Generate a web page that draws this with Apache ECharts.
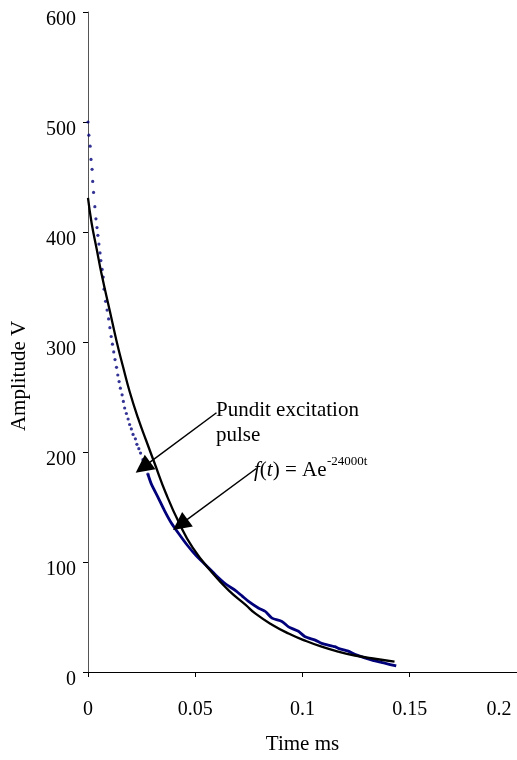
<!DOCTYPE html>
<html>
<head>
<meta charset="utf-8">
<script src="https://cdn.jsdelivr.net/npm/echarts@6/dist/echarts.min.js"></script>
<style>
  html, body { margin: 0; padding: 0; background: #ffffff; }
  #chart { width: 517px; height: 760px; }
</style>
</head>
<body>
<div id="chart"></div>
<script>
// Axis tick labels
const xTickLabels = ['0', '0.05', '0.1', '0.15', '0.2'];
const yTickLabels = ['0', '100', '200', '300', '400', '500', '600'];

// Measured excitation pulse (time in ms, amplitude in V)
const pulseTime = [
  0.0000, 0.0004, 0.0010, 0.0014, 0.0019, 0.0022, 0.0026, 0.0032, 0.0037, 0.0042,
  0.0046, 0.0051, 0.0056, 0.0060, 0.0066, 0.0071, 0.0075, 0.0082, 0.0089, 0.0096,
  0.0102, 0.0108, 0.0114, 0.0120, 0.0126, 0.0133, 0.0139, 0.0145, 0.0151, 0.0159,
  0.0165, 0.0171, 0.0179, 0.0187, 0.0194, 0.0202, 0.0210, 0.0221, 0.0228, 0.0237,
  0.0245, 0.0256, 0.0267, 0.0279,
  0.0295, 0.0326, 0.0356, 0.0387, 0.0426, 0.0464, 0.0503, 0.0550, 0.0596, 0.0642,
  0.0688, 0.0719, 0.0750, 0.0796, 0.0827, 0.0858, 0.0904, 0.0935, 0.0981, 0.1012,
  0.1059, 0.1089, 0.1151, 0.1167, 0.1213, 0.1244, 0.1321, 0.1383, 0.1437
];
const pulseAmp = [
  500, 488, 478, 466, 457, 446, 436, 423, 412, 404,
  397, 389, 381, 374, 366, 359, 348, 337, 329, 321,
  313, 305, 298, 291, 284, 277, 270, 264, 258, 252,
  246, 240, 235, 230, 225, 221, 216, 212, 207, 203,
  199, 193, 187, 180,
  171, 159, 147, 136, 125, 115, 106, 97, 88, 80,
  74, 69, 64, 58, 55, 49, 46, 41, 37, 32,
  29, 26, 23, 21.5, 19, 16, 11, 8, 5.5
];

// Exponential fit curve f(t) = A·e^(-24000t)
const fitTime = [
  0, 0.0017, 0.0040, 0.0063, 0.0102, 0.0133, 0.0164, 0.0194, 0.0233, 0.0272,
  0.0310, 0.0364, 0.0426, 0.0488, 0.0580, 0.0657, 0.0735, 0.0781, 0.0858, 0.0935,
  0.1012, 0.1089, 0.1167, 0.1244, 0.1321, 0.1429
];
const fitAmp = [
  431, 408, 385, 362, 328, 301, 277, 255, 231, 210,
  190, 162, 135, 113, 90, 74, 61, 53, 43, 35,
  28.5, 23, 18.5, 15, 12.5, 9.5
];

// Annotation arrows: [tail, tip] in data coordinates
const pulseArrow = [[0.0599, 235.7], [0.0256, 186]];
const fitArrow = [[0.0785, 185], [0.0430, 134]];

const FONT = 'Liberation Serif';
const NAVY = '#00007a';

// Sparse-dot head of the pulse and continuous tail
const DOT_END = 0.028;
const pulseDots = [], pulseTrace = [];
pulseTime.forEach((t, i) => {
  if (t <= DOT_END) pulseDots.push([t, pulseAmp[i]]);
  if (t >= 0.0279) pulseTrace.push([t, pulseAmp[i]]);
});
const fitPoints = fitTime.map((t, i) => [t, fitAmp[i]]);

const chart = echarts.init(document.getElementById('chart'), null, { renderer: 'canvas' });

chart.setOption({
  animation: false,
  backgroundColor: '#ffffff',
  textStyle: { fontFamily: FONT },
  grid: { left: 88, top: 12, width: 432, height: 664, containLabel: false },
  xAxis: {
    type: 'value', min: 0, max: 0.2, interval: 0.05,
    name: 'Time ms', nameLocation: 'middle', nameGap: 62,
    nameTextStyle: { fontFamily: FONT, fontSize: 21, color: '#000' },
    axisLine: { show: true, onZero: false, lineStyle: { color: '#000', width: 1 } },
    axisTick: { show: true, inside: false, length: 5, lineStyle: { color: '#000' } },
    splitLine: { show: false },
    axisLabel: {
      margin: 28, fontFamily: FONT, fontSize: 20, color: '#000',
      formatter: (v, i) => i === xTickLabels.length - 1
        ? '{last|' + xTickLabels[i] + '}' : xTickLabels[i],
      rich: { last: { fontFamily: FONT, fontSize: 20, color: '#000', padding: [0, 36, 0, 0] } }
    }
  },
  yAxis: {
    type: 'value', min: 0, max: 600, interval: 100,
    name: 'Amplitude V', nameLocation: 'middle', nameGap: 58,
    nameTextStyle: { fontFamily: FONT, fontSize: 21, color: '#000', padding: [0, 68, 0, 0] },
    axisLine: { show: true, onZero: false, lineStyle: { color: '#555', width: 1 } },
    axisTick: { show: true, inside: false, length: 5, lineStyle: { color: '#000' } },
    splitLine: { show: false },
    axisLabel: {
      margin: 12, fontFamily: FONT, fontSize: 20, color: '#000',
      verticalAlign: 'top', lineHeight: 16,
      formatter: (v) => yTickLabels[Math.round(v / 100)]
    }
  },
  series: [
    {
      name: 'Pundit excitation pulse (head)',
      type: 'scatter',
      data: pulseDots,
      symbol: 'circle', symbolSize: 3.2,
      itemStyle: { color: NAVY },
      silent: true, z: 3
    },
    {
      name: 'Pundit excitation pulse',
      type: 'line',
      data: pulseTrace,
      showSymbol: false, smooth: 0.2,
      lineStyle: { color: NAVY, width: 2.8 },
      silent: true, z: 3
    },
    {
      name: 'f(t)',
      type: 'line',
      data: fitPoints,
      showSymbol: false, smooth: 0.5,
      lineStyle: { color: '#000', width: 2.3 },
      silent: true, z: 4,
      markLine: {
        silent: true, animation: false,
        symbol: ['none', 'triangle'], symbolSize: 18,
        label: { show: false },
        lineStyle: { color: '#000', width: 1.5, type: 'solid' },
        itemStyle: { color: '#000' },
        emphasis: { disabled: true },
        data: [
          [{ coord: pulseArrow[0] }, { coord: pulseArrow[1] }],
          [{ coord: fitArrow[0] }, { coord: fitArrow[1] }]
        ]
      }
    }
  ],
  graphic: [
    {
      type: 'text', left: 216, top: 398, silent: true, z: 10,
      style: {
        text: 'Pundit excitation\npulse',
        font: '21px "' + FONT + '"', fill: '#000', lineHeight: 25
      }
    },
    {
      type: 'text', left: 254, top: 460, silent: true, z: 10,
      style: {
        text: '{i|f}{n|(}{i|t}{n|) = Ae}',
        fill: '#000',
        rich: {
          i: { fontFamily: FONT, fontSize: 21, fontStyle: 'italic', lineHeight: 21, fill: '#000' },
          n: { fontFamily: FONT, fontSize: 21, lineHeight: 21, fill: '#000' }
        }
      }
    },
    {
      type: 'text', left: 327, top: 455, silent: true, z: 10,
      style: {
        text: '-24000t',
        font: '13px "' + FONT + '"', fill: '#000', lineHeight: 13
      }
    }
  ]
});
</script>
</body>
</html>
